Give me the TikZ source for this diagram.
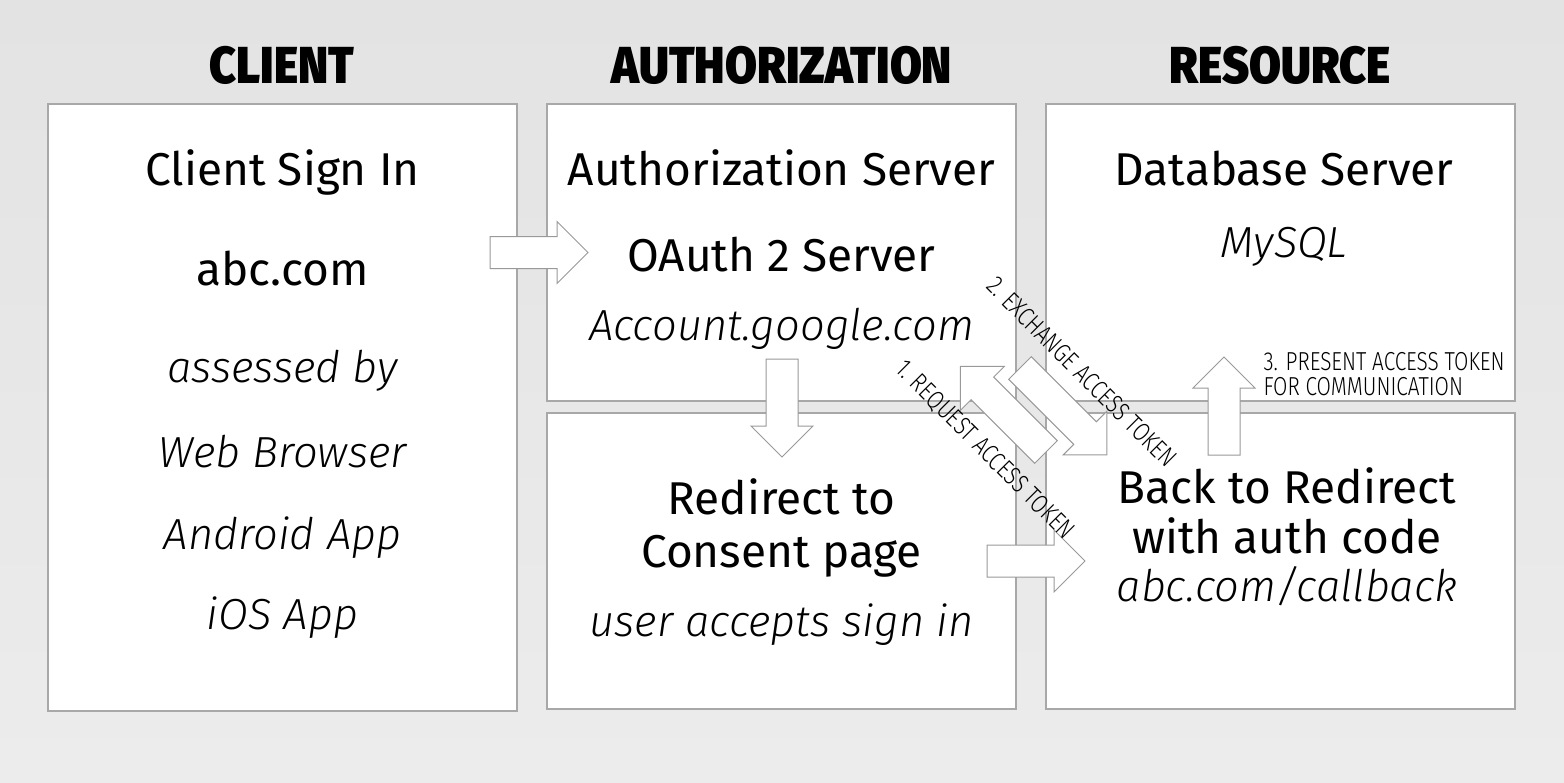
\documentclass[tikz,border=0pt]{standalone}
\usepackage{fontspec}
\setmainfont{Fira Sans}
\newfontfamily\lightit{Fira Sans Light Italic}
\newfontfamily\condf[FakeStretch=0.8]{Fira Sans Light}
\newfontfamily\headf[FakeStretch=0.89]{Fira Sans Black}
\definecolor{bgtop}{HTML}{E3E3E3}
\definecolor{bgbot}{HTML}{ECECEC}
\definecolor{boxline}{HTML}{A8A8A8}
\definecolor{arrline}{HTML}{999999}
\tikzset{
  panel/.style={draw=boxline, line width=1.5pt, fill=white, inner sep=0pt},
  title/.style={font=\headf\fontsize{52}{52}\selectfont, anchor=base},
  big/.style={font=\fontsize{46}{50}\selectfont, anchor=base},
  ital/.style={font=\lightit\fontsize{43.5}{48}\selectfont, anchor=base},
  small/.style={font=\condf\fontsize{26}{28}\selectfont},
  barr/.style={draw=arrline, line width=1pt, fill=white, line join=miter},
}
% block arrow: tail centre x, y, canvas angle, length
\newcommand\blockarrow[4]{%
  \draw[barr, shift={(#1,#2)}, rotate=#3]
    (0,-16) -- (#4-31,-16) -- (#4-31,-31) -- (#4,0) -- (#4-31,31) -- (#4-31,16) -- (0,16) -- cycle;}
\begin{document}
\begin{tikzpicture}[x=1pt, y=-1pt]
\useasboundingbox (0,0) rectangle (1564,782);
\shade[top color=bgtop, bottom color=bgbot] (0,0) rectangle (1564,782);

% panels
\node[panel, minimum width=469pt, minimum height=607pt] (client) at (282.5,407.5) {};
\node[panel, minimum width=469pt, minimum height=297pt] (authtop) at (781.5,252.5) {};
\node[panel, minimum width=469pt, minimum height=296pt] (authbot) at (781.5,561) {};
\node[panel, minimum width=469pt, minimum height=297pt] (restop) at (1280.5,252.5) {};
\node[panel, minimum width=469pt, minimum height=296pt] (resbot) at (1280.5,561) {};

% headings
\node[title] (hclient) at (282,83) {CLIENT};
\node[title] (hauth) at (782,83) {AUTHORIZATION};
\node[title] (hres) at (1280,83) {RESOURCE};

% client texts
\node[big] (c1) at (282.5,185) {Client Sign In};
\node[big] (c2) at (282.5,285) {abc.com};
\node[ital] (c3) at (282.5,382) {assessed by};
\node[ital] (c4) at (282.5,467) {Web Browser};
\node[ital] (c5) at (282.5,549) {Android App};
\node[ital] (c6) at (282.5,629) {iOS App};

% authorization
\node[big] (a1) at (781.5,185) {Authorization Server};
\node[big] (a2) at (781.5,271) {OAuth 2 Server};
\node[ital] (a3) at (781.5,340) {Account.google.com};
\node[big] (b1) at (781.5,514) {Redirect to};
\node[big] (b2) at (781.5,567) {Consent page};
\node[ital] (b3) at (781.5,636) {user accepts sign in};

% resource
\node[big] (r1) at (1284,185) {Database Server};
\node[ital] (r2) at (1284,257) {MySQL};
\node[big] (s1) at (1287,503) {Back to Redirect};
\node[big] (s2) at (1287,553) {with auth code};
\node[ital] (s3) at (1287,601) {abc.com/callback};

% block arrows
\blockarrow{490}{252.5}{0}{98}
\blockarrow{782}{359}{-90}{98}
\blockarrow{987}{561}{0}{98}
\blockarrow{1224}{455}{90}{98}
\blockarrow{1046}{452}{135}{121}
\blockarrow{1020}{368}{-45}{123}

% labels
\node[small, rotate=-45] (l1) at (985,450) {1. REQUEST ACCESS TOKEN};
\node[small, rotate=-45] (l2) at (1082,372) {2. EXCHANGE ACCESS TOKEN};
\node[small, anchor=base west] (l3a) at (1260,370) {3. PRESENT ACCESS TOKEN};
\node[small, anchor=base west] (l3b) at (1260,395) {FOR COMMUNICATION};
\end{tikzpicture}
\end{document}
